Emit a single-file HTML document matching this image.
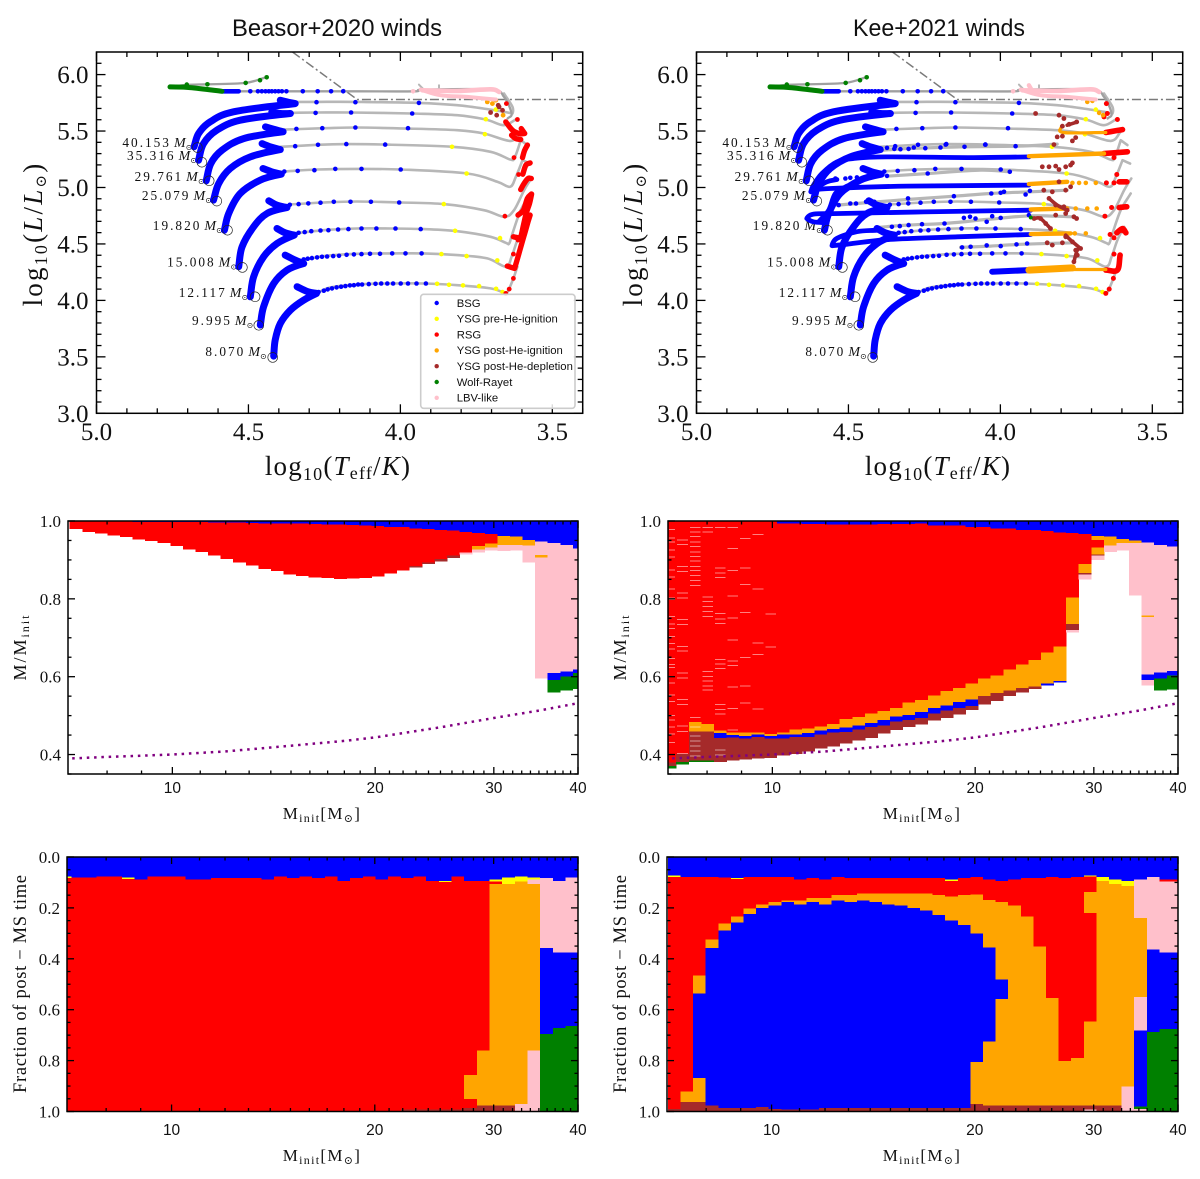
<!DOCTYPE html>
<html lang="en">
<head>
<meta charset="utf-8">
<title>Beasor+2020 and Kee+2021 winds</title>
<style>
html,body{margin:0;padding:0;background:#fff}
svg{display:block}
.serif{font-family:"Liberation Serif","DejaVu Serif",serif;fill:#111}
.sans{font-family:"Liberation Sans","DejaVu Sans",sans-serif;fill:#111}
</style>
</head>
<body>
<svg id="figure" xmlns="http://www.w3.org/2000/svg" width="1200" height="1179" viewBox="0 0 1200 1179">
  <rect width="1200" height="1179" fill="#fff"/>
  <text class="sans" x="337" y="36" font-size="24" text-anchor="middle" textLength="210" lengthAdjust="spacingAndGlyphs">Beasor+2020 winds</text>
  <text class="sans" x="939" y="36" font-size="24" text-anchor="middle" textLength="172" lengthAdjust="spacingAndGlyphs">Kee+2021 winds</text>

  <g id="hr-left"></g>
  <g id="hr-right"></g>
  <g id="mid-left"></g>
  <g id="mid-right"></g>
  <g id="bot-left"></g>
  <g id="bot-right"></g>

  <text class="serif" x="338" y="475" font-size="27" letter-spacing="1.2" text-anchor="middle">log<tspan dy="5" font-size="18">10</tspan><tspan dy="-5">(</tspan><tspan font-style="italic">T</tspan><tspan dy="4" font-size="18">eff</tspan><tspan dy="-4">/</tspan><tspan font-style="italic">K</tspan>)</text>
  <text class="serif" x="938" y="475" font-size="27" letter-spacing="1.2" text-anchor="middle">log<tspan dy="5" font-size="18">10</tspan><tspan dy="-5">(</tspan><tspan font-style="italic">T</tspan><tspan dy="4" font-size="18">eff</tspan><tspan dy="-4">/</tspan><tspan font-style="italic">K</tspan>)</text>
  <text class="serif" transform="translate(42,234) rotate(-90)" font-size="27" letter-spacing="2.2" text-anchor="middle">log<tspan dy="5" font-size="18">10</tspan><tspan dy="-5">(</tspan><tspan font-style="italic">L</tspan>/<tspan font-style="italic">L</tspan><tspan dy="4" font-size="15">⊙</tspan><tspan dy="-4">)</tspan></text>
  <text class="serif" transform="translate(642,234) rotate(-90)" font-size="27" letter-spacing="2.2" text-anchor="middle">log<tspan dy="5" font-size="18">10</tspan><tspan dy="-5">(</tspan><tspan font-style="italic">L</tspan>/<tspan font-style="italic">L</tspan><tspan dy="4" font-size="15">⊙</tspan><tspan dy="-4">)</tspan></text>

  <text class="serif" transform="translate(26,647) rotate(-90)" font-size="18" letter-spacing="2" text-anchor="middle">M/M<tspan dy="3" font-size="12">init</tspan></text>
  <text class="serif" transform="translate(626,647) rotate(-90)" font-size="18" letter-spacing="2" text-anchor="middle">M/M<tspan dy="3" font-size="12">init</tspan></text>
  <text class="serif" x="322" y="819" font-size="17" letter-spacing="1.3" text-anchor="middle">M<tspan dy="3" font-size="12">init</tspan><tspan dy="-3">[M</tspan><tspan dy="3" font-size="11">⊙</tspan><tspan dy="-3">]</tspan></text>
  <text class="serif" x="922" y="819" font-size="17" letter-spacing="1.3" text-anchor="middle">M<tspan dy="3" font-size="12">init</tspan><tspan dy="-3">[M</tspan><tspan dy="3" font-size="11">⊙</tspan><tspan dy="-3">]</tspan></text>

  <text class="serif" transform="translate(26,984) rotate(-90)" font-size="18.5" text-anchor="middle" textLength="218">Fraction of post − MS time</text>
  <text class="serif" transform="translate(626,984) rotate(-90)" font-size="18.5" text-anchor="middle" textLength="218">Fraction of post − MS time</text>
  <text class="serif" x="322" y="1161" font-size="17" letter-spacing="1.3" text-anchor="middle">M<tspan dy="3" font-size="12">init</tspan><tspan dy="-3">[M</tspan><tspan dy="3" font-size="11">⊙</tspan><tspan dy="-3">]</tspan></text>
  <text class="serif" x="922" y="1161" font-size="17" letter-spacing="1.3" text-anchor="middle">M<tspan dy="3" font-size="12">init</tspan><tspan dy="-3">[M</tspan><tspan dy="3" font-size="11">⊙</tspan><tspan dy="-3">]</tspan></text>
</svg>
<script>
/* ---------- colours ---------- */
const BLUE='#0000ff',YELLOW='#ffff00',RED='#ff0000',ORANGE='#ffa500',BROWN='#a52a2a',GREEN='#008000',PINK='#ffc0cb';

/* ---------- tick data ---------- */
const hrXMajor=[5,4.5,4,3.5];
const hrXMinor=[4.9,4.8,4.7,4.6,4.4,4.3,4.2,4.1,3.9,3.8,3.7,3.6,3.4];
const hrYMajor=[3,3.5,4,4.5,5,5.5,6];
const hrYMinor=[3.1,3.2,3.3,3.4,3.6,3.7,3.8,3.9,4.1,4.2,4.3,4.4,4.6,4.7,4.8,4.9,5.1,5.2,5.3,5.4,5.6,5.7,5.8,5.9,6.1];
const massMajor=[10,20,30,40];
const massMinor=[8,9,11,12,13,14,15,16,17,18,19,21,22,23,24,25,26,27,28,29,31,32,33,34,35,36,37,38,39];
const midYMajor=[1,0.8,0.6,0.4];
const midYMinor=[0.95,0.9,0.85,0.75,0.7,0.65,0.55,0.5,0.45,0.35];
const botYMajor=[0,0.2,0.4,0.6,0.8,1];
const botYMinor=[0.05,0.1,0.15,0.25,0.3,0.35,0.45,0.5,0.55,0.65,0.7,0.75,0.85,0.9,0.95];

/* ---------- HR diagram: tracks ---------- */
const trackLabels=['40.153','35.316','29.761','25.079','19.820','15.008','12.117','9.995','8.070'];
const msLogT=[
 [4.679,4.664,4.626,4.549,4.346,4.373,4.395],
 [4.664,4.648,4.604,4.527,4.362,4.395,4.423],
 [4.639,4.624,4.587,4.516,4.386,4.417,4.444],
 [4.615,4.598,4.560,4.494,4.395,4.428,4.455],
 [4.579,4.565,4.527,4.461,4.392,4.423,4.452],
 [4.532,4.521,4.483,4.439,4.373,4.406,4.433],
 [4.494,4.483,4.450,4.406,4.349,4.379,4.406],
 [4.461,4.450,4.417,4.373,4.318,4.351,4.379],
 [4.417,4.412,4.395,4.362,4.318,4.276,4.307,4.340]
];
const msLogL=[
 [5.360,5.478,5.581,5.670,5.743,5.758,5.773],
 [5.242,5.389,5.507,5.596,5.655,5.655,5.670],
 [5.059,5.212,5.330,5.433,5.493,5.516,5.537],
 [4.888,5.035,5.168,5.271,5.336,5.360,5.389],
 [4.622,4.770,4.947,5.065,5.118,5.139,5.168],
 [4.298,4.475,4.652,4.770,4.823,4.844,4.882],
 [4.032,4.209,4.386,4.504,4.578,4.599,4.637],
 [3.782,3.944,4.150,4.268,4.327,4.363,4.401],
 [3.507,3.649,3.796,3.914,4.003,4.062,4.080,4.121]
];
const postLogT=[
 [4.346,4.274,4.148,3.939,3.813,3.703,3.659,3.631,3.631,3.659],
 [4.362,4.274,4.164,3.961,3.813,3.719,3.659,3.615],
 [4.384,4.252,4.142,3.977,3.813,3.725,3.637,3.604],
 [4.395,4.274,4.175,4.049,3.829,3.703,3.639,3.624,3.604,3.582],
 [4.384,4.274,4.142,3.999,3.780,3.681,3.639,3.620,3.598,3.573],
 [4.362,4.252,4.142,3.999,3.857,3.725,3.659,3.626,3.593,3.569],
 [4.349,4.252,4.142,4.032,3.923,3.813,3.703,3.653,3.642,3.631,3.604,3.571],
 [4.318,4.252,4.142,4.032,3.923,3.813,3.714,3.653,3.634,3.615,3.593],
 [4.276,4.230,4.142,4.032,3.923,3.813,3.703,3.655,3.642,3.628,3.615]
];
const postLogL=[
 [5.758,5.758,5.758,5.749,5.729,5.690,5.670,5.655,5.714,5.832],
 [5.661,5.664,5.664,5.655,5.640,5.602,5.552,5.611],
 [5.513,5.525,5.531,5.522,5.507,5.478,5.413,5.493],
 [5.360,5.378,5.384,5.380,5.360,5.316,5.248,5.265,5.419,5.375],
 [5.142,5.159,5.165,5.159,5.124,5.050,5.006,5.094,5.242,5.212],
 [4.850,4.867,4.876,4.867,4.853,4.799,4.740,4.799,4.976,5.080],
 [4.593,4.622,4.637,4.637,4.631,4.613,4.563,4.510,4.504,4.593,4.799,4.947],
 [4.357,4.392,4.413,4.416,4.416,4.401,4.372,4.298,4.386,4.534,4.652],
 [4.062,4.115,4.141,4.150,4.150,4.135,4.106,4.068,4.106,4.195,4.298]
];
const massiveLogT=[4.439,4.510,4.637,4.703,4.758,4.692,4.587,4.532,4.362,4.142,3.955,3.923,3.703,3.659,3.634,3.647];
const massiveLogL=[5.979,5.926,5.914,5.909,5.891,5.885,5.852,5.852,5.852,5.852,5.852,5.867,5.867,5.802,5.655,5.611];
const ringLogT=[4.668,4.653,4.629,4.604,4.569,4.520,4.478,4.466,4.420];
const ringLogL=[5.354,5.224,5.059,4.879,4.622,4.292,4.032,3.779,3.495];
const limitLogT=[4.355,4.142,3.4];
const limitLogL=[6.2,5.779,5.779];
const spurALogT=[3.939,3.923];
const spurALogL=[5.911,5.867];
const spurBLogT=[3.873,3.873];
const spurBLogL=[5.905,5.861];

/* ---------- HR diagram: states shared by both panels ---------- */
const bsgLogT=[4.494,4.469,4.456,4.444,4.433,4.423,4.412,4.401,4.390,4.375,4.321,4.272,4.228,4.188,
 4.276,4.148,3.939, 4.279,4.162,3.961, 4.342,4.257,4.148,3.975, 4.346,4.271,4.178,4.050,
 4.382,4.338,4.283,4.214,4.128,3.999, 4.364,4.335,4.303,4.263,4.219,4.164,4.097,4.004,
 4.335,4.315,4.293,4.263,4.237,4.205,4.171,4.128,4.079,4.016,3.933,
 4.318,4.305,4.291,4.274,4.258,4.241,4.221,4.202,4.177,4.153,4.128,4.100,4.067,4.027,3.983,3.930,
 4.269,4.252,4.239,4.225,4.210,4.195,4.181,4.166,4.153,4.139,4.126,4.104,4.082,4.063,4.043,4.024,3.999,3.975,3.947,3.916];
const bsgLogL=[5.852,5.852,5.852,5.852,5.852,5.852,5.852,5.852,5.852,5.852,5.852,5.852,5.852,5.852,
 5.755,5.755,5.749, 5.661,5.664,5.655, 5.519,5.525,5.531,5.525, 5.366,5.378,5.384,5.380,
 5.142,5.147,5.153,5.165,5.165,5.159, 4.847,4.853,4.859,4.865,4.873,4.873,4.873,4.867,
 4.599,4.605,4.613,4.619,4.622,4.628,4.631,4.637,4.637,4.637,4.631,
 4.363,4.369,4.375,4.381,4.386,4.389,4.392,4.395,4.404,4.407,4.410,4.413,4.413,4.416,4.416,4.416,
 4.074,4.086,4.097,4.106,4.115,4.121,4.127,4.133,4.135,4.141,4.141,4.144,4.147,4.150,4.150,4.150,4.150,4.150,4.150,4.150];
const bsgDenseLogT=[4.587,4.532];
const bsgDenseLogL=[5.852,5.852];
const ysgPreLogT=[3.686,3.719,3.722,3.830,3.782,3.857,3.820,3.672,3.865,3.782,3.681,3.879,3.840,3.794,3.741,3.685,3.664];
const ysgPreLogL=[5.690,5.605,5.472,5.360,5.124,4.853,4.616,4.552,4.410,4.392,4.354,4.147,4.138,4.133,4.127,4.103,4.074];
const wolfRayetDotLogT=[4.703,4.635,4.509,4.462,4.440];
const wolfRayetDotLogL=[5.911,5.914,5.926,5.950,5.976];
const wolfRayetDenseLogT=[4.758,4.692,4.587];
const wolfRayetDenseLogL=[5.891,5.885,5.852];
const lbvDotLogT=[3.958];
const lbvDotLogL=[5.852];
const lbvStrandALogT=[3.928,3.813,3.703,3.675];
const lbvStrandALogL=[5.861,5.855,5.870,5.847];
const lbvStrandBLogT=[3.933,3.868,3.780,3.686];
const lbvStrandBLogL=[5.867,5.817,5.802,5.779];

/* ---------- HR diagram: Beasor only ---------- */
const rsgStrandsLeftT=[
 [3.648,3.624,3.613,3.602,3.591,3.580,3.573],
 [3.628,3.604,3.596,3.586,3.575,3.568],
 [3.613,3.595,3.582,3.569],
 [3.604,3.593,3.580,3.569],
 [3.597,3.587,3.573],
 [3.598,3.591,3.582],
 [3.634,3.620,3.604],
 [3.653,3.631,3.609,3.591,3.602]
];
const rsgStrandsLeftL=[
 [4.304,4.283,4.386,4.490,4.593,4.696,4.755],
 [4.563,4.549,4.652,4.770,4.858,4.941],
 [4.755,4.799,4.903,4.941],
 [4.982,5.035,5.080,5.080],
 [5.118,5.198,5.218],
 [5.265,5.330,5.375],
 [5.463,5.433,5.425],
 [5.581,5.507,5.478,5.478,5.522]
];
const rsgDotsLeftT=[3.651,3.615,3.653,3.642,3.628,3.628,3.613,3.656,3.626,3.611];
const rsgDotsLeftL=[5.743,5.602,4.062,4.100,4.195,4.410,4.534,4.746,5.265,5.115];
const ysgPostLeftT=[3.714,3.697,3.686,3.662];
const ysgPostLeftL=[5.758,5.743,5.773,5.640];
const ysgDepLeftT=[3.703,3.683,3.675,3.664,3.678];
const ysgDepLeftL=[5.664,5.640,5.714,5.684,5.728];

/* ---------- HR diagram: Kee only ---------- */
const keeGrayT=[
 [4.384,4.307,4.120,3.944,3.813],
 [4.373,4.236,4.065,3.969],
 [4.538,4.307,4.153,4.032,3.900,3.780],
 [4.406,4.307,4.186,4.043,3.900,3.758],
 [4.131,4.032,3.923,3.758]
];
const keeGrayL=[
 [5.330,5.345,5.360,5.366,5.384],
 [5.100,5.124,5.153,5.139],
 [4.844,4.894,4.923,4.947,4.962,4.976],
 [4.646,4.667,4.681,4.717,4.749,4.740],
 [4.469,4.481,4.498,4.510]
];
const keeBlueStrandT=[
 [3.906,4.087,4.373,4.483,4.538,4.587,4.615,4.624],
 [3.906,4.307,4.560,4.620],
 [4.620,4.571,4.538],
 [3.900,4.252,4.527,4.615,4.637,4.615,4.571],
 [4.598,4.565,4.543,4.505],
 [3.900,4.142,4.362,4.505,4.554,4.538,4.472,4.406],
 [4.027,3.906]
];
const keeBlueStrandL=[
 [5.271,5.265,5.271,5.257,5.227,5.124,5.021,4.962],
 [5.021,5.012,4.991,4.976],
 [4.976,5.050,5.071],
 [4.799,4.784,4.770,4.764,4.725,4.696,4.687],
 [4.696,4.799,4.947,5.012],
 [4.584,4.563,4.540,4.498,4.484,4.549,4.608,4.622],
 [4.254,4.268]
];
const keeBlueDotT=[4.373,4.349,4.329,4.302,4.285,4.247,4.197,4.180,4.118,4.049,3.950,
 4.373,4.239,3.969, 4.543,4.510,4.494,4.472,
 4.532,4.494,4.475,4.442,4.415,4.304,4.153,4.030,3.999,3.988,3.917,3.903,
 4.357,4.331,4.302,4.258,4.184,4.120,4.100,4.082,4.045,4.027,3.999,3.906,
 4.126,4.098,4.045,3.999,3.947,3.912];
const keeBlueDotL=[5.351,5.342,5.339,5.342,5.354,5.348,5.354,5.380,5.360,5.380,5.366,
 5.103,5.124,5.139, 5.080,5.080,5.086,5.089,
 4.844,4.858,4.858,4.873,4.873,4.903,4.923,4.947,4.953,4.962,4.938,4.970,
 4.652,4.658,4.667,4.675,4.681,4.731,4.740,4.725,4.696,4.746,4.731,4.755,
 4.469,4.475,4.487,4.481,4.496,4.504];
const keeOrangeStrandT=[
 [3.906,3.659],[3.906,3.780],[3.900,3.780],[3.900,3.769],[3.763,3.653],[3.799,3.793,3.653]
];
const keeOrangeStrandL=[
 [5.277,5.301],[5.030,5.050],[4.805,4.814],[4.587,4.593],[4.274,4.274],[5.543,5.487,5.487]
];
const keeOrangeWideT=[3.906,3.763];
const keeOrangeWideL=[4.268,4.288];
const keeOrangeDotT=[3.763,3.741,3.719,3.686,3.752,3.714,3.683,3.755,3.719,3.714,3.697,3.662,3.675];
const keeOrangeDotL=[5.041,5.041,5.041,5.041,4.814,4.814,4.814,4.593,4.593,5.758,5.767,5.640,5.661];
const keeRedStrandT=[
 [3.653,3.598],[3.659,3.582],[3.609,3.584],[3.609,3.584],[3.617,3.598,3.587],[3.653,3.615,3.606]
];
const keeRedStrandL=[
 [5.487,5.513],[5.301,5.316],[5.050,5.050],[4.823,4.829],[4.599,4.637,4.599],[4.268,4.268,4.401]
];
const keeRedDotT=[3.651,3.615,3.653,3.642,3.628,3.626,3.651,3.626,3.656,3.634,3.639,3.626,3.626,3.617,3.659,3.648,3.596,3.596,3.596];
const keeRedDotL=[5.743,5.602,4.062,4.100,4.195,4.410,5.041,5.041,4.746,4.823,4.584,4.554,5.265,5.115,5.625,5.655,5.050,4.825,4.615];
const keeBrownDotT=[3.884,3.807,3.791,3.796,3.774,3.749,3.813,3.796,3.763,3.752,3.824,
 3.862,3.840,3.818,3.807,3.785,3.769,3.763,
 3.857,3.829,3.807,3.785,3.769,3.840,3.818,3.791,3.780,
 3.889,3.868,3.851,3.835,3.818,3.785,3.758,3.749,
 3.785,3.763,3.736,3.752,3.747,3.758,3.846,3.829,3.796];
const keeBrownDotL=[5.655,5.640,5.611,5.543,5.560,5.581,5.448,5.454,5.413,5.442,5.380,
 5.183,5.183,5.189,5.159,5.183,5.198,5.218,
 4.976,4.962,5.050,4.976,5.006,4.903,4.844,4.829,4.799,
 4.725,4.725,4.681,4.637,4.755,4.770,4.740,4.725,
 4.563,4.519,4.460,4.445,4.401,4.342,4.510,4.490,4.510];
const keeBrownStrandT=[
 [3.780,3.747],
 [3.758,3.747,3.736,3.769,3.785],
 [3.840,3.813,3.780],
 [3.889,3.868,3.835]
];
const keeBrownStrandL=[
 [5.552,5.581],
 [4.342,4.445,4.460,4.534,4.578],
 [4.903,4.844,4.799],
 [4.725,4.725,4.637]
];
const keeGreenDotT=[3.900];
const keeGreenDotL=[4.734];
const keeLbvExtraT=[3.906,3.895];
const keeLbvExtraL=[5.905,5.852];

/* ---------- legend ---------- */
const legendLabels=['BSG','YSG pre-He-ignition','RSG','YSG post-He-ignition','YSG post-He-depletion','Wolf-Rayet','LBV-like'];
const legendColors=[BLUE,YELLOW,RED,ORANGE,BROWN,GREEN,PINK];

/* ---------- M/Minit stacks, Beasor ---------- */
const midLeftBlue1=[0,0,0,0,0,.998,.997,.997,.997,.997,.997,.996,.996,.996,.995,.994,.994,.993,.993,.992,.991,.991,.990,.989,.987,.985,.984,.981,.979,.977,.975,.972,.969,.967,.962,.960,.951,.947,.944,.938,.930];
const midLeftRed=[.979,.972,.968,.963,.959,.953,.948,.943,.936,.927,.920,.912,.903,.894,.886,.877,.871,.863,.859,.855,.853,.851,.852,.854,.858,.865,.873,.885,.893,.902,.911,.919,.936,.942];
const midLeftOrange=[0,0,0,0,0,0,0,0,0,0,0,0,0,0,0,0,0,0,0,0,0,0,0,0,0,0,0,0,0,0,0,0,.927,.932,.938,.938,.937];
const midLeftBrown=[0,0,0,0,0,0,0,0,0,0,0,0,0,0,0,0,0,0,0,0,0,0,0,0,0,0,0,.880,.889,.896,.905];
const midLeftPink1=[0,0,0,0,0,0,0,0,0,0,0,0,0,0,0,0,0,0,0,0,0,0,0,0,0,0,0,0,0,0,0,.914,.919,.924,.923,.924,.894,.913,.609,.613,.619];
const midLeftOrange2=[0,0,0,0,0,0,0,0,0,0,0,0,0,0,0,0,0,0,0,0,0,0,0,0,0,0,0,0,0,0,0,0,0,0,0,0,0,.906];
const midLeftPink2=[0,0,0,0,0,0,0,0,0,0,0,0,0,0,0,0,0,0,0,0,0,0,0,0,0,0,0,0,0,0,0,0,0,0,0,0,0,.596];
const midLeftBlue2=[0,0,0,0,0,0,0,0,0,0,0,0,0,0,0,0,0,0,0,0,0,0,0,0,0,0,0,0,0,0,0,0,0,0,0,0,0,0,.592,.601,.609];
const midLeftGreen=[0,0,0,0,0,0,0,0,0,0,0,0,0,0,0,0,0,0,0,0,0,0,0,0,0,0,0,0,0,0,0,0,0,0,0,0,0,0,.560,.564,.568];

/* ---------- M/Minit stacks, Kee ---------- */
const midRightBlue1=[0,0,0,0,0,0,0,0,0,.994,.994,.992,.992,.991,.991,.991,.991,.992,.992,.992,.993,.988,.989,.988,.985,.985,.981,.981,.977,.977,.974,.970,.969,.966,.962,.960,.954,.950,.945,.938,.934];
const midRightOrange1=[0,0,0,0,0,0,0,0,0,0,0,0,0,0,0,0,0,0,0,0,0,0,0,0,0,0,0,0,0,0,0,0,0,0,.951];
const midRightRed=[.380,.401,.483,.479,.462,.457,.456,.457,.453,.457,.464,.467,.472,.479,.491,.496,.505,.512,.519,.534,.540,.552,.563,.571,.582,.595,.603,.618,.631,.643,.662,.678,.804,.890,.932];
const midRightOrange2=[0,0,.459,.459,.455,.450,.447,.451,.447,.451,.451,.455,.462,.466,.469,.475,.481,.489,.498,.502,.509,.519,.526,.535,.542,.551,.558,.564,.571,.575,.582,.589,.735,.866,.914,.937,.944,.943];
const midRightBlue2=[0,0,0,0,.442,.444,.441,.445,.441,.441,.445,.445,.451,.456,.458,.464,.471,.474,.485,.489,.494,.506,.513,.519,.525,0,0,0,0,0,.577,.585];
const midRightBrown=[.370,.381,.385,.385,.381,.385,.387,.390,.391,.397,.401,.408,.415,.421,.429,.436,.443,.454,.463,.471,.477,.488,.494,.503,.515,.528,.538,.551,.560,.569,0,0,.720,.862,.911];
const midRightPink1=[0,0,0,0,0,0,0,0,0,0,0,0,0,0,0,0,0,0,0,0,0,0,0,0,0,0,0,0,0,0,0,0,.714,.850,.900,.921,.924,.808,.757,.611,.614];
const midRightOrange3=[0,0,0,0,0,0,0,0,0,0,0,0,0,0,0,0,0,0,0,0,0,0,0,0,0,0,0,0,0,0,0,0,0,0,0,0,0,0,.754];
const midRightPink2=[0,0,0,0,0,0,0,0,0,0,0,0,0,0,0,0,0,0,0,0,0,0,0,0,0,0,0,0,0,0,0,0,0,0,0,0,0,0,.606];
const midRightBlue3=[0,0,0,0,0,0,0,0,0,0,0,0,0,0,0,0,0,0,0,0,0,0,0,0,0,0,0,0,0,0,0,0,0,0,0,0,0,0,.591,.595,.603];
const midRightPink3=[0,0,0,0,0,0,0,0,0,0,0,0,0,0,0,0,0,0,0,0,0,0,0,0,0,0,0,0,0,0,0,0,0,0,0,0,0,0,.578];
const midRightGreen=[.364,.374,.381,.381,0,0,0,0,0,0,0,0,0,0,0,0,0,0,0,0,0,0,0,0,0,0,0,0,0,0,0,0,0,0,0,0,0,0,0,.564,.567];
/* mass levels of the pale gaps in the low-mass red columns of the Kee panel */
const gapLevels=[
 [.979,.958,.947,.927,.909,.876,.857,.826,.804,.799,.756,.737,.725,.705,.686,.673,.648,.633,.625,.602,.585,.554,.537,.502,.490,.472,.454,.432],
 [.953,.941,.885,.872,.816,.803,.748,.735,.679,.667,.611,.598,.543,.530,.474,.461,.404],
 [.985,.973,.962,.947,.936,.921,.910,.898,.885,.874,.861,.849,.836,.496,.472,.449,.436,.423,.411,.398],
 [.985,.973,.806,.795,.782,.769,.756,.615,.602,.590,.578,.567],
 [.985,.881,.868,.856,.763,.750,.738,.646,.634,.622,.530,.517,.505,.413,.400],
 [.985,.930,.874,.808,.752,.696,.642,.630,.575,.519,.464],
 [.956,.881,.838,.766,.650,.577,.534],
 [.967,.827,.688,.658,.518],
 [.762,.678]
];

/* ---------- remnant-fraction curve (dotted) ---------- */
const curveMass=[7.1,8,9,10,12,14,16,18,20,25,30,35,40];
const curveFraction=[.390,.394,.397,.400,.408,.418,.427,.435,.444,.470,.494,.513,.532];

/* ---------- post-MS time stacks, Beasor ---------- */
const botLeftBlue1=[.076,.081,.081,.077,.077,.081,.088,.077,.077,.077,.088,.088,.083,.083,.083,.083,.088,.077,.083,.077,.083,.077,.094,.083,.077,.088,.077,.083,.077,.094,.094,.077,.094,.094,.088,.081,.077,.081,.083,.094,.081];
const botLeftYellow=[.083,0,0,0,0,.086,0,0,0,0,0,0,0,0,0,0,0,0,0,0,0,0,0,0,0,0,0,0,0,0,.098,0,0,0,.096,.107,.096,.088];
const botLeftPink0=[0,0,0,0,0,0,0,0,0,0,0,0,0,0,0,0,0,0,0,0,0,0,0,0,0,0,0,0,0,0,0,0,0,0,0,0,0,.107,.358,.376,.376];
const botLeftRed1=[1,1,1,1,1,1,1,1,1,1,1,1,1,1,1,1,1,1,1,1,1,1,1,1,1,1,1,.993,.993,.993,.993,.993,.856,.760,.107];
const botLeftOrange1=[0,0,0,0,0,0,0,0,0,0,0,0,0,0,0,0,0,0,0,0,0,0,0,0,0,0,0,0,0,0,0,0,.950,.976,.976,.976,.970,.760];
const botLeftRed2=[0,0,0,0,0,0,0,0,0,0,0,0,0,0,0,0,0,0,0,0,0,0,0,0,0,0,0,0,0,0,0,0,.987];
const botLeftBrown=[0,0,0,0,0,0,0,0,0,0,0,0,0,0,0,0,0,0,0,0,0,0,0,0,0,0,0,1,1,1,1,1,1,1,1,1];
const botLeftPink1=[0,0,0,0,0,0,0,0,0,0,0,0,0,0,0,0,0,0,0,0,0,0,0,0,0,0,0,0,0,0,0,0,0,0,0,0,1,1];
const botLeftBlue2=[0,0,0,0,0,0,0,0,0,0,0,0,0,0,0,0,0,0,0,0,0,0,0,0,0,0,0,0,0,0,0,0,0,0,0,0,0,0,.695,.671,.664];
const botLeftGreen=[0,0,0,0,0,0,0,0,0,0,0,0,0,0,0,0,0,0,0,0,0,0,0,0,0,0,0,0,0,0,0,0,0,0,0,0,0,0,1,1,1];

/* ---------- post-MS time stacks, Kee ---------- */
const botRightBlue1=[.072,.079,.079,.079,.081,.083,.079,.079,.079,.079,.088,.083,.088,.079,.083,.083,.083,.083,.083,.083,.083,.083,.088,.083,.079,.088,.094,.088,.083,.083,.079,.083,.079,.072,.079,.088,.094,.088,.079,.088,.088];
const botRightYellow=[.079,0,0,0,0,.087,0,0,0,0,0,0,0,0,0,0,0,0,0,0,0,0,.094,0,0,0,0,0,0,0,0,0,0,.076,.094,.107,.113];
const botRightRed1=[.990,.921,.465,.324,.262,.233,.203,.186,.177,.170,.170,.161,.161,.149,.149,.143,.143,.143,.143,.143,.143,.149,.155,.149,.148,.168,.177,.190,.233,.351,.554,.802,.789,.138,0,0,0,0,0,.096,.096];
const botRightPink0=[0,0,0,0,0,0,0,0,0,0,0,0,0,0,0,0,0,0,0,0,0,0,0,0,0,0,0,0,0,0,0,0,0,0,0,0,0,.239,.364,.376,.376];
const botRightOrange1=[0,.963,.537,.358,.288,.257,.223,.201,.190,.177,.186,.177,.186,.170,.177,.170,.177,.186,.190,.201,.210,.227,.250,.267,.300,.356,.482,.976,.976,.976,.976,.976,.976,.220,.976,.976,.902,.550];
const botRightBlue2=[0,0,.869,.976,.987,.987,.987,.983,.990,.993,.993,.993,.987,.987,.987,.987,.987,.987,.987,.987,.987,.987,.987,.987,.806,.725,.557];
const botRightRed2=[0,0,0,0,0,0,0,0,0,0,0,0,0,0,0,0,0,0,0,0,0,0,0,0,0,0,0,0,0,0,0,0,0,.646];
const botRightOrange2=[0,0,.963,0,0,0,0,0,0,0,0,0,0,0,0,0,0,0,0,0,0,0,0,0,.970,.976,.976,0,0,0,0,0,0,.976];
const botRightBrown=[1,1,1,1,1,1,1,1,1,1,1,1,1,1,1,1,1,1,1,1,1,1,1,1,1,1,1,1,1,1,1,1,1,.993,1,1];
const botRightPink1=[0,0,0,0,0,0,0,0,0,0,0,0,0,0,0,0,0,0,0,0,0,0,0,0,0,0,0,0,0,0,0,0,0,1,0,0,1,.682];
const botRightBlue3=[0,0,0,0,0,0,0,0,0,0,0,0,0,0,0,0,0,0,0,0,0,0,0,0,0,0,0,0,0,0,0,0,0,0,0,0,0,.980,.688,.675,.675];
const botRightGreen=[0,0,0,0,0,0,0,0,0,0,0,0,0,0,0,0,0,0,0,0,0,0,0,0,0,0,0,0,0,0,0,0,0,0,0,0,0,.990,1,1,1];
const botRightPink2=[0,0,0,0,0,0,0,0,0,0,0,0,0,0,0,0,0,0,0,0,0,0,0,0,0,0,0,0,0,0,0,0,0,0,0,0,0,1];

const NS='http://www.w3.org/2000/svg';
function make(tag,attrs,parent,text){
  const node=document.createElementNS(NS,tag);
  for(const k in attrs){node.setAttribute(k,attrs[k]);}
  if(text!==undefined){node.textContent=text;}
  parent.appendChild(node);
  return node;
}

/* ---------- axis functions ---------- */
const M_LO=7,M_HI=40;
function xHR(p,t){return p.left+(5-t)/(5-3.4)*(p.right-p.left);}
function yHR(p,l){return p.bottom-(l-3)/(6.2-3)*(p.bottom-p.top);}
function xMass(p,m){return p.left+(p.right-p.left)*Math.log(m/M_LO)/Math.log(M_HI/M_LO);}
function yMid(p,v){return p.top+(1-v)/(1-0.35)*(p.bottom-p.top);}
function yBot(p,v){return p.top+v*(p.bottom-p.top);}

function frame(p,name){
  const r=make('rect',{x:p.left,y:p.top,width:p.right-p.left,height:p.bottom-p.top,fill:'none',stroke:'#000','stroke-width':1.5},p.g);
  
  
}
function tickMark(p,x1,y1,x2,y2){
  const t=make('line',{x1:x1,y1:y1,x2:x2,y2:y2,stroke:'#000','stroke-width':1.3},p.g);
  
  
}
function xTicks(p,fx,vals,len){
  vals.forEach(function(v){
    const x=fx(p,v);
    tickMark(p,x,p.bottom,x,p.bottom-len);
    tickMark(p,x,p.top,x,p.top+len);
  });
}
function yTicks(p,fy,vals,len){
  vals.forEach(function(v){
    const y=fy(p,v);
    tickMark(p,p.left,y,p.left+len,y);
    tickMark(p,p.right,y,p.right-len,y);
  });
}
function xLabel(p,x,y,str,cls,size){
  const t=make('text',{x:x,y:y,'text-anchor':'middle',class:cls,'font-size':size},p.g,str);
  
  
}
function yLabel(p,x,y,str,size){
  const t=make('text',{x:x,y:y,'text-anchor':'end',class:'serif','font-size':size},p.g,str);
  
  
}

/* ---------- smooth curve through axis-mapped track samples ---------- */
function smoothPath(pts){
  function tangent(i){
    if(i===0){return [(pts[1][0]-pts[0][0])/3,(pts[1][1]-pts[0][1])/3];}
    const n=pts.length-1;
    if(i===n){return [(pts[n][0]-pts[n-1][0])/3,(pts[n][1]-pts[n-1][1])/3];}
    const ax=pts[i][0]-pts[i-1][0],ay=pts[i][1]-pts[i-1][1];
    const bx=pts[i+1][0]-pts[i][0],by=pts[i+1][1]-pts[i][1];
    if(ax*bx+ay*by<=0){return [0,0];}
    return [(pts[i+1][0]-pts[i-1][0])/6,(pts[i+1][1]-pts[i-1][1])/6];
  }
  let d='M'+pts[0][0].toFixed(1)+' '+pts[0][1].toFixed(1);
  for(let i=0;i<pts.length-1;i++){
    const t0=tangent(i),t1=tangent(i+1);
    d+='C'+(pts[i][0]+t0[0]).toFixed(1)+' '+(pts[i][1]+t0[1]).toFixed(1)+' '+(pts[i+1][0]-t1[0]).toFixed(1)+' '+(pts[i+1][1]-t1[1]).toFixed(1)+' '+pts[i+1][0].toFixed(1)+' '+pts[i+1][1].toFixed(1);
  }
  return d;
}

/* ---------- HR marks ---------- */
function hrLine(p,ts,ls,color,width,name){
  const pts=ts.map(function(t,i){return [xHR(p,t),yHR(p,ls[i])];});
  const l=make('path',{d:smoothPath(pts),fill:'none',stroke:color,'stroke-width':width,'stroke-linecap':'round','stroke-linejoin':'round'},p.clip);
  
  
}
function hrLimit(p){
  const pts=limitLogT.map(function(t,i){return xHR(p,t).toFixed(1)+','+yHR(p,limitLogL[i]).toFixed(1);}).join(' ');
  const l=make('polyline',{points:pts,fill:'none',stroke:'#7a7a7a','stroke-width':1.5,'stroke-dasharray':'9 3 2 3'},p.clip);
  
  
}
function hrDots(p,ts,ls,color,r,name){
  ts.forEach(function(t,i){
    const c=make('circle',{cx:xHR(p,t).toFixed(1),cy:yHR(p,ls[i]).toFixed(1),r:r,fill:color},p.clip);
    
    
  });
}

function hrPanel(id,left,right,isKee){
  const g=document.getElementById(id);
  const p={g:g,left:left,right:right,top:52,bottom:413.3};
  const clipId='clip-'+id;
  const defs=make('defs',{},g);
  const cp=make('clipPath',{id:clipId},defs);
  make('rect',{x:left,y:52,width:right-left,height:361.3},cp);
  p.clip=make('g',{'clip-path':'url(#'+clipId+')'},g);
  
  

  hrLimit(p);

  trackLabels.forEach(function(lbl,i){
    const lx=xHR(p,msLogT[i][0])-(i>=7?68.3:71.6);
    const ly=yHR(p,msLogL[i][0]);
    const t=make('text',{x:lx.toFixed(1),y:ly.toFixed(1),class:'serif','font-size':13.3},p.clip);
    
    
    make('tspan',{'letter-spacing':2},t,lbl);
    make('tspan',{'font-style':'italic',dx:3,'font-size':14},t,'M');
    make('tspan',{dy:3,'font-size':8},t,'⊙');
  });

  postLogT.forEach(function(ts,i){hrLine(p,ts,postLogL[i],'#b7b7b7',2.6,'evolution-track');});
  hrLine(p,massiveLogT,massiveLogL,'#a0a0a0',2.3,'evolution-track-massive');
  hrLine(p,spurALogT,spurALogL,'#b7b7b7',2,'evolution-track-spur');
  hrLine(p,spurBLogT,spurBLogL,'#b7b7b7',2,'evolution-track-spur');

  if(isKee){
    keeGrayT.forEach(function(ts,i){hrLine(p,ts,keeGrayL[i],'#b7b7b7',3.2,'helium-loop-track');});
  }

  msLogT.forEach(function(ts,i){hrLine(p,ts,msLogL[i],BLUE,7,'main-sequence-band');});
  hrLine(p,bsgDenseLogT,bsgDenseLogL,BLUE,4.6,'bsg-dense-band');
  hrDots(p,bsgLogT,bsgLogL,BLUE,2.3,'bsg-point');

  if(isKee){
    keeBlueStrandT.forEach(function(ts,i){hrLine(p,ts,keeBlueStrandL[i],BLUE,i===6?6:4.8,'bsg-loop-band');});
    hrDots(p,keeBlueDotT,keeBlueDotL,BLUE,2.3,'bsg-loop-point');
  }

  hrDots(p,ysgPreLogT,ysgPreLogL,YELLOW,2.3,'ysg-pre-point');

  if(isKee){
    keeRedStrandT.forEach(function(ts,i){hrLine(p,ts,keeRedStrandL[i],RED,5.6,'rsg-band');});
    hrDots(p,keeRedDotT,keeRedDotL,RED,2.5,'rsg-point');
    keeOrangeStrandT.forEach(function(ts,i){hrLine(p,ts,keeOrangeStrandL[i],ORANGE,i<4?4.4:3.2,'ysg-post-band');});
    hrLine(p,keeOrangeWideT,keeOrangeWideL,ORANGE,7,'ysg-post-wide-band');
    hrDots(p,keeOrangeDotT,keeOrangeDotL,ORANGE,2.3,'ysg-post-point');
    keeBrownStrandT.forEach(function(ts,i){hrLine(p,ts,keeBrownStrandL[i],BROWN,3.6,'ysg-depletion-band');});
    hrDots(p,keeBrownDotT,keeBrownDotL,BROWN,2.4,'ysg-depletion-point');
    hrDots(p,keeGreenDotT,keeGreenDotL,GREEN,2,'wolf-rayet-point');
  } else {
    rsgStrandsLeftT.forEach(function(ts,i){hrLine(p,ts,rsgStrandsLeftL[i],RED,5.4,'rsg-band');});
    hrDots(p,rsgDotsLeftT,rsgDotsLeftL,RED,2.4,'rsg-point');
    hrDots(p,ysgPostLeftT,ysgPostLeftL,ORANGE,2.4,'ysg-post-point');
    hrDots(p,ysgDepLeftT,ysgDepLeftL,BROWN,2.4,'ysg-depletion-point');
  }

  hrLine(p,wolfRayetDenseLogT,wolfRayetDenseLogL,GREEN,5,'wolf-rayet-band');
  hrDots(p,wolfRayetDotLogT,wolfRayetDotLogL,GREEN,2.3,'wolf-rayet-point');
  hrDots(p,lbvDotLogT,lbvDotLogL,PINK,2.3,'lbv-point');
  hrLine(p,lbvStrandALogT,lbvStrandALogL,PINK,4.6,'lbv-band');
  hrLine(p,lbvStrandBLogT,lbvStrandBLogL,PINK,4,'lbv-band');
  if(isKee){hrLine(p,keeLbvExtraT,keeLbvExtraL,PINK,4.4,'lbv-band');}

  ringLogT.forEach(function(t,i){
    const c=make('circle',{cx:xHR(p,t).toFixed(1),cy:yHR(p,ringLogL[i]).toFixed(1),r:4.9,fill:'none',stroke:'#222','stroke-width':0.7},p.clip);
    
    
  });

  xTicks(p,xHR,hrXMajor,9);
  xTicks(p,xHR,hrXMinor,5);
  yTicks(p,yHR,hrYMajor,9);
  yTicks(p,yHR,hrYMinor,5);
  frame(p,'hr-frame');
  hrXMajor.forEach(function(v){xLabel(p,xHR(p,v),440,v.toFixed(1),'serif',25);});
  hrYMajor.forEach(function(v){yLabel(p,left-8,yHR(p,v)+8.5,v.toFixed(1),25);});

  if(!isKee){
    const box=make('rect',{x:420.7,y:294.3,width:154.3,height:114,rx:3,fill:'#fff','fill-opacity':0.85,stroke:'#ccc','stroke-width':1.6},g);
    
    
    legendLabels.forEach(function(lbl,i){
      const cy=303+i*15.8;
      const m=make('circle',{cx:436.7,cy:cy,r:2.2,fill:legendColors[i]},g);
      
      
      const t=make('text',{x:456.7,y:cy+3.8,class:'sans','font-size':11.3},g,lbl);
      
      
    });
  }
  return p;
}

/* ---------- stacked bars ---------- */
function binEdge(bins,i){return Math.pow(10,bins.start+bins.step*i);}
function stackPanel(p,layers,bins,fy,origin){
  for(let i=0;i<41;i++){
    const x0=Math.max(p.left,xMass(p,binEdge(bins,i)));
    const x1=Math.min(p.right,xMass(p,binEdge(bins,i+1)));
    if(x1<=x0){continue;}
    let prev=origin;
    layers.forEach(function(layer){
      const val=layer[1][i];
      if(!val){return;}
      const y0=fy(p,prev),y1=fy(p,val);
      const r=make('rect',{x:x0.toFixed(2),y:Math.min(y0,y1).toFixed(2),width:(x1-x0+0.4).toFixed(2),height:Math.abs(y1-y0).toFixed(2),fill:layer[0],'shape-rendering':'crispEdges'},p.g);
      
      
      prev=val;
    });
  }
}
function massTicks(p){
  xTicks(p,xMass,massMajor,7);
  xTicks(p,xMass,massMinor,3.5);
}
function massLabels(p,y){
  massMajor.forEach(function(v){xLabel(p,xMass(p,v),y,String(v),'sans',15.5);});
}
function curve(p){
  const pts=curveMass.map(function(m,i){return xMass(p,m).toFixed(1)+','+yMid(p,curveFraction[i]).toFixed(1);}).join(' ');
  const l=make('polyline',{points:pts,fill:'none',stroke:'#800080','stroke-width':2.5,'stroke-dasharray':'2.5 4.8'},p.g);
  
  
}
function midFinish(p){
  curve(p);
  massTicks(p);
  yTicks(p,yMid,midYMajor,7);
  yTicks(p,yMid,midYMinor,3.5);
  frame(p,'mass-frame');
  massLabels(p,793);
  midYMajor.forEach(function(v){yLabel(p,p.left-7,yMid(p,v)+6,v.toFixed(1),17);});
}
function botFinish(p){
  massTicks(p);
  yTicks(p,yBot,botYMajor,7);
  yTicks(p,yBot,botYMinor,3.5);
  frame(p,'time-frame');
  massLabels(p,1135);
  botYMajor.forEach(function(v){yLabel(p,p.left-7,yBot(p,v)+6,v.toFixed(1),17);});
}

/* ---------- build ---------- */
hrPanel('hr-left',96.5,582.7,false);
hrPanel('hr-right',696.5,1182.7,true);

const pMidL={g:document.getElementById('mid-left'),left:68,right:578,top:521,bottom:774};
stackPanel(pMidL,[[BLUE,midLeftBlue1],[RED,midLeftRed],[ORANGE,midLeftOrange],[BROWN,midLeftBrown],[PINK,midLeftPink1],[ORANGE,midLeftOrange2],[PINK,midLeftPink2],[BLUE,midLeftBlue2],[GREEN,midLeftGreen]],{start:.8476,step:.01867},yMid,1);
midFinish(pMidL);

const pMidR={g:document.getElementById('mid-right'),left:668,right:1178,top:521,bottom:774};
stackPanel(pMidR,[[BLUE,midRightBlue1],[ORANGE,midRightOrange1],[RED,midRightRed],[ORANGE,midRightOrange2],[BLUE,midRightBlue2],[BROWN,midRightBrown],[PINK,midRightPink1],[ORANGE,midRightOrange3],[PINK,midRightPink2],[BLUE,midRightBlue3],[PINK,midRightPink3],[GREEN,midRightGreen]],{start:.8386,step:.01867},yMid,1);
gapLevels.forEach(function(levels,col){
  const b={start:.8386,step:.01867};
  const x0=Math.max(pMidR.left,xMass(pMidR,binEdge(b,col)))+1;
  const x1=xMass(pMidR,binEdge(b,col+1))-1;
  levels.forEach(function(v){
    const d=make('rect',{x:x0.toFixed(1),y:yMid(pMidR,v).toFixed(1),width:(x1-x0).toFixed(1),height:1,fill:'#ffffff','fill-opacity':0.5,'shape-rendering':'crispEdges'},pMidR.g);
    
    
  });
});
midFinish(pMidR);

const pBotL={g:document.getElementById('bot-left'),left:67,right:578,top:857,bottom:1111.5};
stackPanel(pBotL,[[BLUE,botLeftBlue1],[YELLOW,botLeftYellow],[PINK,botLeftPink0],[RED,botLeftRed1],[ORANGE,botLeftOrange1],[RED,botLeftRed2],[BROWN,botLeftBrown],[PINK,botLeftPink1],[BLUE,botLeftBlue2],[GREEN,botLeftGreen]],{start:.8328,step:.01877},yBot,0);
botFinish(pBotL);

const pBotR={g:document.getElementById('bot-right'),left:667,right:1178,top:857,bottom:1111.5};
stackPanel(pBotR,[[BLUE,botRightBlue1],[YELLOW,botRightYellow],[RED,botRightRed1],[PINK,botRightPink0],[ORANGE,botRightOrange1],[BLUE,botRightBlue2],[RED,botRightRed2],[ORANGE,botRightOrange2],[BROWN,botRightBrown],[PINK,botRightPink1],[BLUE,botRightBlue3],[GREEN,botRightGreen],[PINK,botRightPink2]],{start:.8464,step:.01867},yBot,0);
botFinish(pBotR);
</script>
</body>
</html>
